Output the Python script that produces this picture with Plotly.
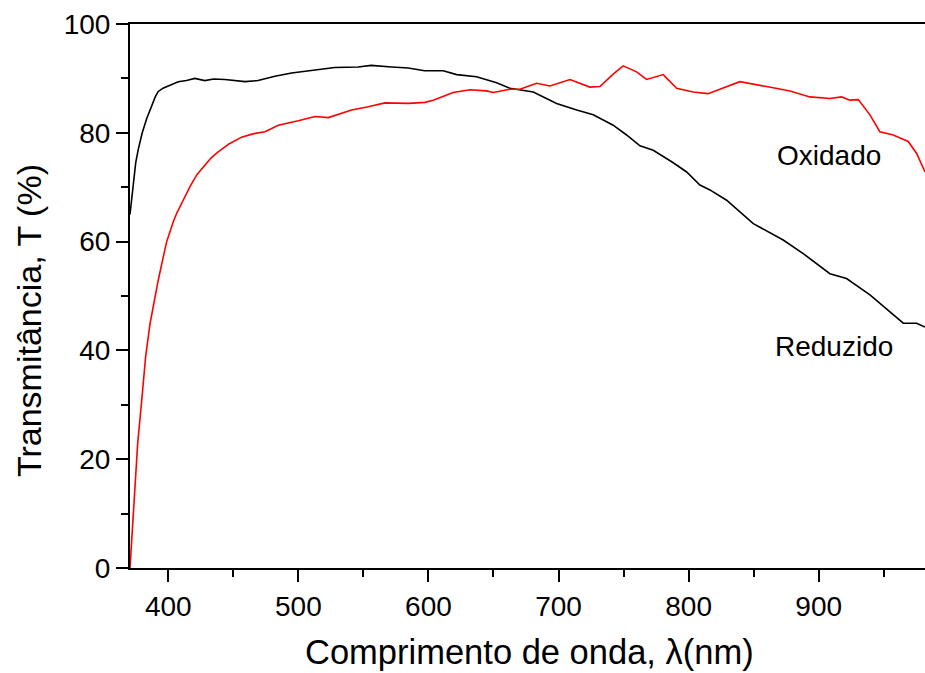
import plotly.graph_objects as go

# Reduzido (black)
red_nm = [370.6, 373, 375, 377, 380, 383.4, 387, 390, 392.3, 396, 400, 407.7, 414, 420.5, 428, 435, 443.6, 452, 459,
          469, 482, 494.8, 507.6, 528, 546, 556, 571.7, 584.5, 597, 611.4, 621.7, 637, 652.4, 662.6,
          680.6, 698.5, 714, 726.7, 742, 752.3, 762.6, 772.8, 788.2, 798.5, 808.7, 816.4, 829.2, 849.7,
          872.7, 888.1, 908.6, 921.4, 939.4, 954.7, 965, 975.3, 981.7]
red_T = [65.0, 70.5, 74.5, 77.0, 80.0, 82.6, 84.8, 86.6, 87.6, 88.2, 88.6, 89.4, 89.6, 90.0, 89.6, 89.9, 89.8, 89.6, 89.4,
         89.6, 90.4, 91.0, 91.4, 92.0, 92.1, 92.4, 92.1, 91.9, 91.4, 91.4, 90.7, 90.3, 89.2, 88.2,
         87.5, 85.4, 84.2, 83.3, 81.4, 79.6, 77.6, 76.8, 74.5, 72.8, 70.4, 69.5, 67.6, 63.3,
         60.3, 57.8, 54.1, 53.2, 50.2, 47.1, 45.0, 45.0, 44.3]

# Oxidado (red)
oxi_nm = [370.6, 373, 376.5, 379.6, 382.6, 386, 389.8, 392.3, 396.2, 398.8, 403.8, 406.5, 411.5, 416.7,
          422, 428, 433, 438.4, 447, 456.4, 465, 474.3, 484.6, 500, 512.8, 523, 541, 553.7, 566.6, 584.5, 597.3, 603.7,
          619, 632, 644.7, 649.8, 662.6, 670.3, 683.2, 693.4, 708.8, 724.1, 731.8, 742, 749.7, 760, 767.7,
          780.5, 790.8, 803.5, 815, 824, 839.4, 860, 877.9, 893.2, 908.6, 917.6, 924, 930.4, 939.4,
          947, 957.3, 968.8, 975.3, 981.7]
oxi_T = [0.0, 10.0, 22.9, 30.8, 38.8, 44.9, 49.8, 52.9, 57.2, 60.0, 63.6, 65.2, 67.6, 70.1,
         72.3, 74.1, 75.4, 76.5, 78.0, 79.2, 79.8, 80.2, 81.4, 82.2, 83.0, 82.8, 84.2, 84.8, 85.5, 85.4, 85.6, 86.0,
         87.4, 87.9, 87.7, 87.4, 88.0, 88.0, 89.1, 88.6, 89.8, 88.4, 88.5, 90.8, 92.3, 91.2, 89.8,
         90.7, 88.2, 87.5, 87.2, 88.0, 89.4, 88.5, 87.7, 86.6, 86.3, 86.6, 86.0, 86.1, 83.3,
         80.2, 79.6, 78.4, 76.2, 72.8]

x_ticks = [400, 500, 600, 700, 800, 900]
y_ticks = [0, 20, 40, 60, 80, 100]

FONT = "Liberation Sans, Arial, sans-serif"

fig = go.Figure()
fig.add_trace(go.Scatter(x=red_nm, y=red_T, mode="lines", line=dict(color="black", width=1.6),
                         name="Reduzido", showlegend=False))
fig.add_trace(go.Scatter(x=oxi_nm, y=oxi_T, mode="lines", line=dict(color="#ff0000", width=1.6),
                         name="Oxidado", showlegend=False))

fig.add_annotation(x=908, y=75.9, text="Oxidado", showarrow=False,
                   font=dict(family=FONT, size=28, color="black"))
fig.add_annotation(x=911.5, y=40.8, text="Reduzido", showarrow=False,
                   font=dict(family=FONT, size=28, color="black"))

fig.add_annotation(xref="paper", yref="paper", x=0.503, y=0, yshift=-84, yanchor="middle",
                   text="Comprimento de onda, λ(nm)", showarrow=False,
                   font=dict(family=FONT, size=34.5, color="black"))
fig.add_annotation(xref="paper", yref="paper", x=0, xshift=-101, y=0.454, xanchor="center",
                   yanchor="middle", textangle=-90, text="Transmitância, T (%)", showarrow=False,
                   font=dict(family=FONT, size=34, color="black"))

fig.update_layout(
    width=925, height=673,
    margin=dict(l=130, r=0, t=24, b=105),
    paper_bgcolor="white", plot_bgcolor="white",
    font=dict(family=FONT, size=28, color="black"),
)
fig.update_xaxes(range=[370.6, 981.7], tickvals=x_ticks, ticks="outside", ticklen=12, tickwidth=2,
                 tickcolor="black", showline=True, linecolor="black", linewidth=2, mirror=True,
                 showgrid=False, zeroline=False, tickfont=dict(family=FONT, size=28),
                 minor=dict(tickvals=[450, 550, 650, 750, 850, 950], ticks="outside", ticklen=7,
                            tickwidth=2, tickcolor="black"))
fig.update_yaxes(range=[0, 100], tickvals=y_ticks, ticks="outside", ticklen=12, tickwidth=2,
                 tickcolor="black", showline=True, linecolor="black", linewidth=2, mirror=False,
                 showgrid=False, zeroline=False, tickfont=dict(family=FONT, size=28),
                 minor=dict(tickvals=[10, 30, 50, 70, 90], ticks="outside", ticklen=7,
                            tickwidth=2, tickcolor="black"))

post = ("document.body.style.margin='0px';"
        "document.body.style.overflow='hidden';"
        "document.documentElement.style.overflow='hidden';")
fig.write_html("out.html", post_script=post, config={"displayModeBar": False})
